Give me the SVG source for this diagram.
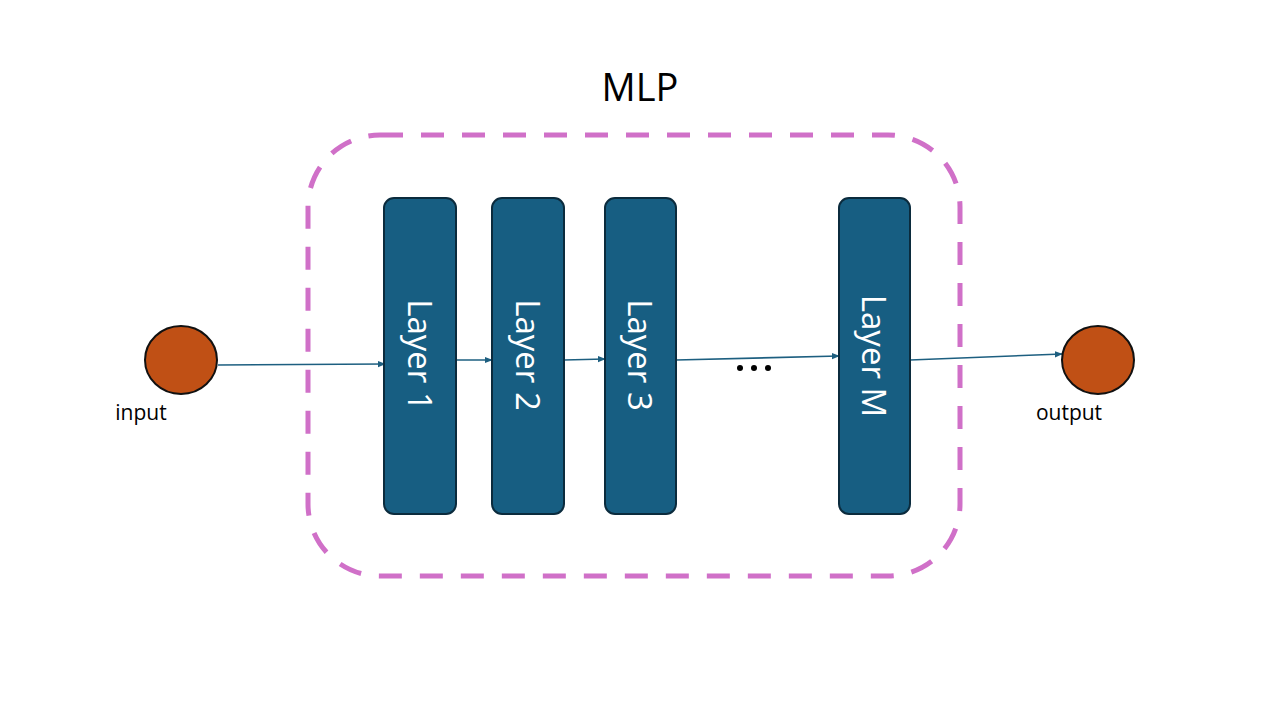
<svg xmlns="http://www.w3.org/2000/svg" width="1280" height="720" viewBox="0 0 1280 720">
<defs>
<style>
.layer rect{fill:#175E82;stroke:#0B2B3D;stroke-width:2}
.layer text{fill:#FFFFFF;font-family:"Open Sans","Noto Sans",sans-serif;font-size:33px;text-anchor:middle;dominant-baseline:central}
.node ellipse{fill:#C05015;stroke:#111;stroke-width:2}
.lbl{fill:#000;font-family:"Open Sans","Noto Sans",sans-serif;font-size:21px;text-anchor:middle}
.edge{stroke:#1D5F80;stroke-width:1.6;fill:none;marker-end:url(#arr)}
</style>
<marker id="arr" viewBox="0 0 10 10" refX="9" refY="5" markerWidth="5" markerHeight="5" orient="auto" markerUnits="strokeWidth">
<path d="M0,1 L10,5 L0,9 z" fill="#1D5F80"/>
</marker>
</defs>
<rect width="1280" height="720" fill="#FFFFFF"/>
<g id="mlp">
<rect x="308" y="135" width="652" height="441" rx="72" ry="72" fill="none" stroke="#D070C8" stroke-width="5" stroke-dasharray="23 18"/>
<text x="640" y="101" font-family="'Open Sans','Noto Sans',sans-serif" font-size="38" text-anchor="middle" fill="#000">MLP</text>
</g>
<g id="connectors">
<line class="edge" x1="218" y1="365" x2="385" y2="364"/>
<line class="edge" x1="456" y1="360" x2="492" y2="360"/>
<line class="edge" x1="564" y1="360" x2="605" y2="359"/>
<line class="edge" x1="676" y1="360" x2="839" y2="356"/>
<line class="edge" x1="910" y1="360" x2="1062" y2="354"/>
</g>
<g id="input" class="node">
<ellipse cx="181" cy="360" rx="36" ry="34"/>
<text class="lbl" x="141" y="420">input</text>
</g>
<g id="layer1" class="layer">
<rect x="384" y="198" width="72" height="316" rx="10"/>
<text transform="translate(420,355) rotate(90)">Layer 1</text>
</g>
<g id="layer2" class="layer">
<rect x="492" y="198" width="72" height="316" rx="10"/>
<text transform="translate(528,355) rotate(90)">Layer 2</text>
</g>
<g id="layer3" class="layer">
<rect x="605" y="198" width="71" height="316" rx="10"/>
<text transform="translate(640,355) rotate(90)">Layer 3</text>
</g>
<g id="dots">
<circle cx="740" cy="368" r="3" fill="#000"/>
<circle cx="754" cy="368" r="3" fill="#000"/>
<circle cx="768" cy="368" r="3" fill="#000"/>
</g>
<g id="layerM" class="layer">
<rect x="839" y="198" width="71" height="316" rx="10"/>
<text transform="translate(874,356) rotate(90)">Layer M</text>
</g>
<g id="output" class="node">
<ellipse cx="1098" cy="360" rx="36" ry="34"/>
<text class="lbl" x="1069" y="420">output</text>
</g>
</svg>
